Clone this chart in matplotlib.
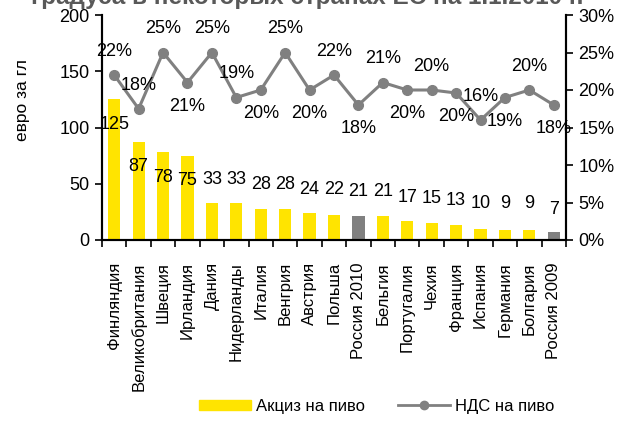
import matplotlib.pyplot as plt
import numpy as np
from matplotlib.lines import Line2D
from matplotlib.patches import Patch

plt.rcParams['font.family'] = ['Liberation Sans', 'DejaVu Sans']

countries = ["Финляндия", "Великобритания", "Швеция", "Ирландия", "Дания",
             "Нидерланды", "Италия", "Венгрия", "Австрия", "Польша",
             "Россия 2010", "Бельгия", "Португалия", "Чехия", "Франция",
             "Испания", "Германия", "Болгария", "Россия 2009"]
excise = [125, 87, 78, 75, 33, 33, 28, 28, 24, 22, 21, 21, 17, 15, 13, 10, 9, 9, 7]
vat = [22, 17.5, 25, 21, 25, 19, 20, 25, 20, 22, 18, 21, 20, 20, 19.6, 16, 19, 20, 18]
vat_labels = ["22%", "18%", "25%", "21%", "25%", "19%", "20%", "25%", "20%", "22%",
              "18%", "21%", "20%", "20%", "20%", "16%", "19%", "20%", "18%"]
# где стоит подпись НДС: над (1) или под (-1) точкой
vat_label_side = [1, 1, 1, -1, 1, 1, -1, 1, -1, 1, -1, 1, -1, 1, -1, 1, -1, 1, -1]
# высота подписей акциза (евро за гл)
excise_label_y = [103, 65, 56, 53, 54, 54, 49, 49, 45, 45, 43, 43, 38, 37, 35, 32, 32, 32, 27]

yellow = "#FFE400"
grey = "#808080"
bar_colors = [grey if c.startswith("Россия") else yellow for c in countries]

fig = plt.figure(figsize=(6.26, 4.22), dpi=100)
ax = fig.add_axes([102 / 626, 1 - 240 / 422, 464 / 626, 225 / 422])
ax2 = ax.twinx()

x = np.arange(len(countries))
ax.bar(x, excise, width=0.5, color=bar_colors, zorder=2)
ax.set_xlim(-0.5, len(countries) - 0.5)
ax.set_ylim(0, 200)
ax.set_yticks([0, 50, 100, 150, 200])
ax.set_xticks(x)
ax.set_xticklabels(countries, rotation=90, fontsize=12)
ax.set_xticks(np.arange(-0.5, len(countries), 1), minor=True)
ax.tick_params(axis="x", which="major", length=0, pad=16)
ax.tick_params(axis="x", which="minor", length=5, width=1.2, direction="out")
ax.tick_params(axis="y", length=5, width=1.2, direction="out", labelsize=13, pad=4)
ax.set_ylabel("евро за гл", fontsize=12.5)
ax.yaxis.set_label_coords(-0.155, 0.62)
for v, ly, xi in zip(excise, excise_label_y, x):
    ax.text(xi, ly, str(v), ha="center", va="center", fontsize=13, zorder=5)

ax2.plot(x, vat, color=grey, lw=2.2, marker="o", ms=7, zorder=3)
ax2.set_ylim(0, 30)
ax2.set_yticks(np.arange(0, 31, 5))
ax2.set_yticklabels([f"{t}%" for t in range(0, 31, 5)])
ax2.tick_params(axis="y", length=5, width=1.2, direction="out", labelsize=13, pad=4)
for xi, v, lab, side in zip(x, vat, vat_labels, vat_label_side):
    ax2.annotate(lab, (xi, v), xytext=(0, 17 * side), textcoords="offset points",
                 ha="center", va="center", fontsize=13)

for a in (ax, ax2):
    a.spines["top"].set_visible(False)
    for s in ("left", "right", "bottom"):
        a.spines[s].set_linewidth(1.5)

fig.text(307 / 626, 1 - 4 / 422, "градуса в некоторых странах ЕС на 1.1.2010 г.",
         ha="center", va="baseline", fontsize=17.5, fontweight="bold", color="#595959")

handles = [Patch(color=yellow),
           Line2D([], [], color=grey, lw=2, marker="o", ms=6)]
fig.legend(handles, ["Акциз на пиво", "НДС на пиво"], loc="center",
           bbox_to_anchor=(377 / 626, 1 - 406 / 422), ncol=2, frameon=False,
           fontsize=12, handlelength=3.1, handleheight=0.55, columnspacing=2.0,
           handletextpad=0.3)

fig.savefig("out.png", dpi=100)
